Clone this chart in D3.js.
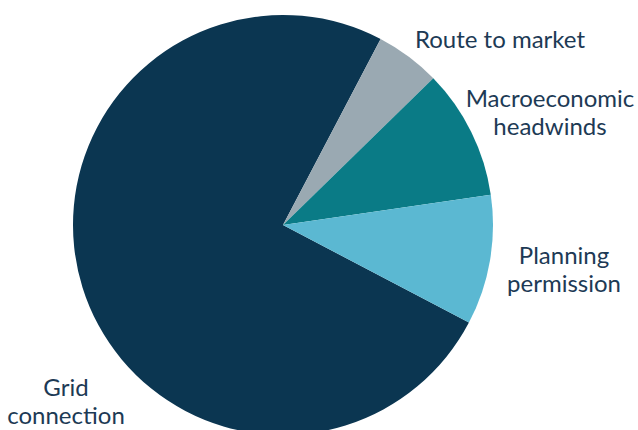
<!DOCTYPE html>
<html>
<head>
<meta charset="utf-8">
<script src="https://cdn.jsdelivr.net/npm/d3@7"></script>
<style>
  html, body { margin: 0; padding: 0; background: #ffffff; }
  svg { display: block; }
</style>
</head>
<body>
<svg id="chart" width="638" height="430"></svg>
<script>
// Barriers to project delivery, share of responses
const categories = ["Grid connection", "Route to market", "Macroeconomic headwinds", "Planning permission"];
const values = [75, 5, 10, 10];
const colors = ["#0b3651", "#9aa9b2", "#0a7b86", "#5bb8d2"];
const labelLines = [["Grid", "connection"], ["Route to market"], ["Macroeconomic", "headwinds"], ["Planning", "permission"]];
const labelPos = [[66, 396], [500, 48], [550, 107], [564, 264]];

const svg = d3.select("#chart");
const cx = 283, cy = 225, r = 210;

const startOffset = 117.7 * Math.PI / 180;
const pie = d3.pie().sort(null).value(d => d)
  .startAngle(startOffset).endAngle(startOffset + 2 * Math.PI);
const arc = d3.arc().innerRadius(0).outerRadius(r);

const g = svg.append("g").attr("transform", `translate(${cx},${cy})`);
g.selectAll("path")
  .data(pie(values))
  .join("path")
  .attr("d", arc)
  .attr("fill", (d, i) => colors[i]);

const labels = svg.append("g")
  .attr("font-family", "Lato, 'Open Sans', sans-serif")
  .attr("font-size", 24)
  .attr("fill", "#1d3a55")
  .attr("text-anchor", "middle");

labelLines.forEach((lines, i) => {
  const t = labels.append("text")
    .attr("x", labelPos[i][0])
    .attr("y", labelPos[i][1]);
  lines.forEach((line, j) => {
    t.append("tspan")
      .attr("x", labelPos[i][0])
      .attr("dy", j === 0 ? 0 : 27.5)
      .text(line);
  });
});
</script>
</body>
</html>
